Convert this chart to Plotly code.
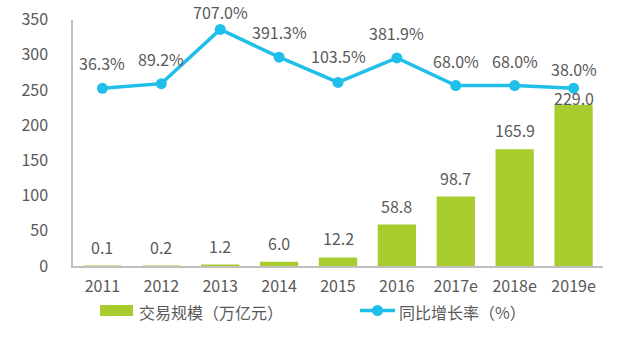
import plotly.graph_objects as go

# Transaction scale (trillion yuan) and year-on-year growth (%)
years = ["2011", "2012", "2013", "2014", "2015", "2016", "2017e", "2018e", "2019e"]
scale = [0.1, 0.2, 1.2, 6.0, 12.2, 58.8, 98.7, 165.9, 229.0]
growth = [36.3, 89.2, 707.0, 391.3, 103.5, 381.9, 68.0, 68.0, 38.0]
y_ticks = [0, 50, 100, 150, 200, 250, 300, 350]

bar_name = "交易规模（万亿元）"
line_name = "同比增长率（%）"

GREEN = "#a8cb2e"
CYAN = "#20bfea"
TEXT = "#595959"
FONT = "Noto Sans CJK SC"

# vertical offset (px) of each label above its mark
bar_label_shift = [19, 19, 19, 19, 19, 19, 19, 19, 7]
line_label_shift = [25, 25, 17, 25, 26, 25, 25, 25, 19]

# years placed at integer slots on a linear x axis
xpos = list(range(len(years)))

fig = go.Figure()

fig.add_trace(go.Bar(
    x=xpos, y=scale, name=bar_name,
    marker=dict(color=GREEN, line=dict(width=0)),
    width=0.65, showlegend=False, hoverinfo="skip",
))

fig.add_trace(go.Scatter(
    x=xpos, y=growth, name=line_name, yaxis="y2",
    mode="lines+markers",
    line=dict(color=CYAN, width=3.5),
    marker=dict(color=CYAN, size=11),
    showlegend=False, hoverinfo="skip",
))

annotations = []
for i, v, s in zip(xpos, scale, bar_label_shift):
    annotations.append(dict(
        x=i, y=v, xref="x", yref="y", text=f"{v:.1f}",
        showarrow=False, yanchor="middle", yshift=s,
        font=dict(size=16, color=TEXT, family=FONT),
    ))
for i, v, s in zip(xpos, growth, line_label_shift):
    annotations.append(dict(
        x=i, y=v, xref="x", yref="y2", text=f"{v:.1f}%",
        showarrow=False, yanchor="middle", yshift=s,
        font=dict(size=16, color=TEXT, family=FONT),
    ))

# legend drawn as swatches with text
annotations.append(dict(
    x=137 / 640, y=1 - 312 / 343, xref="paper", yref="paper",
    xanchor="left", yanchor="middle", text=bar_name, showarrow=False,
    font=dict(size=16, color=TEXT, family=FONT),
))
annotations.append(dict(
    x=397 / 640, y=1 - 312 / 343, xref="paper", yref="paper",
    xanchor="left", yanchor="middle", text=line_name, showarrow=False,
    font=dict(size=16, color=TEXT, family=FONT),
))

shapes = [
    dict(type="rect", xref="paper", yref="paper",
         x0=100 / 640, x1=133 / 640, y0=1 - 316 / 343, y1=1 - 305 / 343,
         fillcolor=GREEN, line=dict(width=0)),
    dict(type="line", xref="paper", yref="paper",
         x0=360 / 640, x1=395 / 640, y0=1 - 310.5 / 343, y1=1 - 310.5 / 343,
         line=dict(color=CYAN, width=3.5)),
    dict(type="circle", xref="paper", yref="paper",
         x0=372 / 640, x1=383 / 640, y0=1 - 316 / 343, y1=1 - 305 / 343,
         fillcolor=CYAN, line=dict(width=0)),
]

# plot area in pixels
L, R, T, B = 73, 603, 19.6, 266
fig.update_layout(
    width=640, height=343,
    margin=dict(l=0, r=0, t=0, b=0, autoexpand=False),
    paper_bgcolor="white", plot_bgcolor="white",
    font=dict(family=FONT, size=16, color=TEXT),
    xaxis=dict(
        domain=[L / 640, R / 640], range=[-0.5, len(years) - 0.5],
        tickvals=xpos, ticktext=years,
        showline=True, linecolor="#bfbfbf", linewidth=1.5,
        showgrid=False, zeroline=False, ticks="", ticklabelstandoff=5,
        tickfont=dict(size=16, color=TEXT, family=FONT),
    ),
    yaxis=dict(
        domain=[1 - B / 343, 1 - T / 343], range=[0, 350],
        tickvals=y_ticks, showline=True, linecolor="#bfbfbf", linewidth=1.5,
        showgrid=False, zeroline=False, ticks="", ticklabelstandoff=20,
        tickfont=dict(size=16, color=TEXT, family=FONT),
    ),
    yaxis2=dict(
        overlaying="y", side="right", range=[-1988, 819],
        visible=False, showgrid=False, zeroline=False,
    ),
    annotations=annotations,
    shapes=shapes,
)

fig.write_html("out.html")
